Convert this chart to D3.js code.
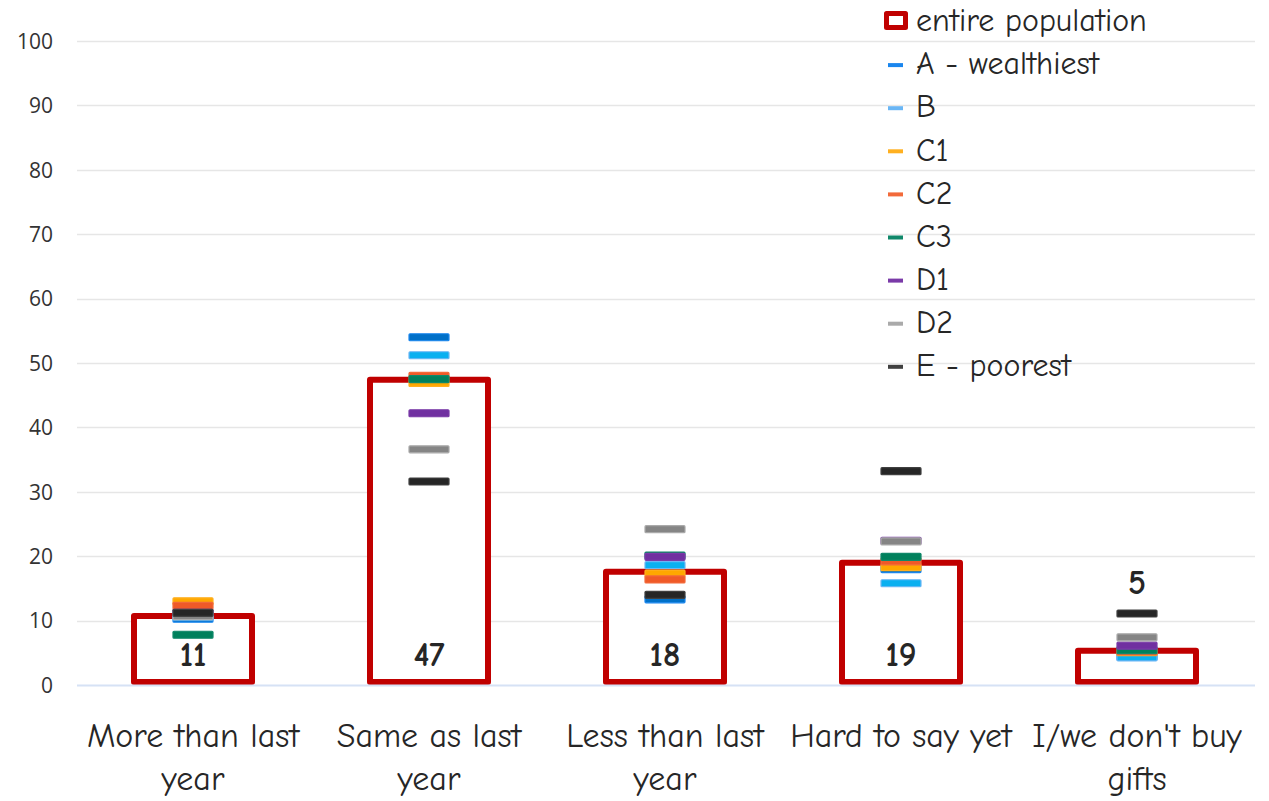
<!DOCTYPE html>
<html>
<head>
<meta charset="utf-8">
<script src="https://cdn.jsdelivr.net/npm/d3@7"></script>
<style>
  html, body { margin: 0; padding: 0; background: #fff; }
  svg { display: block; }
  .comic { font-family: "Comic Sans MS", "Comic Neue", "DejaVu Sans", sans-serif; fill: #262626; }
  .tick-y { font-family: "Open Sans", "Noto Sans", sans-serif; fill: #333; }
</style>
</head>
<body>
<svg id="chart" width="1269" height="801"></svg>
<script>
// категории (подписи в две строки)
const categories = [
  ["More than last", "year"],
  ["Same as last", "year"],
  ["Less than last", "year"],
  ["Hard to say yet"],
  ["I/we don't buy", "gifts"]
];

// все население (столбцы-рамки)
const entirePopulation = [10.7, 47.4, 17.6, 19.0, 5.3];

// группы по достатку (маркеры-черточки)
const groupA  = [10.3, 54.0, 13.3, 18.0, 4.4];
const groupB  = [10.6, 51.2, 18.6, 15.8, 4.3];
const groupC1 = [13.0, 46.9, 17.3, 18.3, 5.1];
const groupC2 = [12.3, 48.0, 16.4, 19.2, 5.2];
const groupC3 = [7.8, 47.5, 20.1, 19.9, 5.4];
const groupD1 = [11.2, 42.2, 19.9, 22.4, 6.1];
const groupD2 = [10.7, 36.6, 24.2, 22.3, 7.4];
const groupE  = [11.2, 31.6, 14.0, 33.2, 11.1];

const yTicks = [0, 10, 20, 30, 40, 50, 60, 70, 80, 90, 100];

// серии маркеров: имя, данные, заливка, обводка
const series = [
  {name: "A - wealthiest", values: groupA,  fill: "#0070c8", stroke: "#1a86ee"},
  {name: "B",              values: groupB,  fill: "#0ab0f0", stroke: "#6ab6f5"},
  {name: "C1",             values: groupC1, fill: "#ffa800", stroke: "#ffb020"},
  {name: "C2",             values: groupC2, fill: "#f05a28", stroke: "#f26a3a"},
  {name: "C3",             values: groupC3, fill: "#00805c", stroke: "#10886a"},
  {name: "D1",             values: groupD1, fill: "#7030a0", stroke: "#7a3aa8"},
  {name: "D2",             values: groupD2, fill: "#858585", stroke: "#aaaaaa"},
  {name: "E - poorest",    values: groupE,  fill: "#262626", stroke: "#404040"}
];

const svg = d3.select("#chart");

const plot = {left: 75, right: 1255, top: 41, bottom: 685};

const x = d3.scaleBand()
  .domain(d3.range(categories.length))
  .range([plot.left, plot.right])
  .padding(0);

const y = d3.scaleLinear()
  .domain([0, 100])
  .range([plot.bottom, plot.top]);

// сетка
svg.append("g")
  .selectAll("line")
  .data(yTicks.filter(t => t > 0))
  .join("line")
  .attr("x1", plot.left + 2)
  .attr("x2", plot.right)
  .attr("y1", d => Math.round(y(d)) + 0.5)
  .attr("y2", d => Math.round(y(d)) + 0.5)
  .attr("stroke", "#e6e6e6")
  .attr("stroke-width", 1.5);

// подписи оси Y
const axisY = svg.append("g")
  .attr("transform", "translate(53,0)")
  .call(d3.axisLeft(y).tickValues(yTicks).tickSize(0).tickPadding(0));
axisY.select(".domain").remove();
axisY.selectAll("text")
  .attr("class", "tick-y")
  .style("font-size", "21px")
  .attr("dy", "0.35em");

// столбцы "entire population"
const barW = x.bandwidth() * 0.5;
const sw = 6;
svg.append("g")
  .selectAll("rect")
  .data(entirePopulation)
  .join("rect")
  .attr("x", (d, i) => x(i) + x.bandwidth() / 2 - barW / 2)
  .attr("y", d => y(d))
  .attr("width", barW)
  .attr("height", d => y(0) - y(d) - sw / 2)
  .attr("fill", "#fff")
  .attr("stroke", "#c00000")
  .attr("stroke-width", sw)
  .attr("stroke-linejoin", "round");

// базовая линия
svg.append("line")
  .attr("x1", plot.left + 2)
  .attr("x2", plot.right)
  .attr("y1", y(0) + 0.5)
  .attr("y2", y(0) + 0.5)
  .attr("stroke", "#d6e2f5")
  .attr("stroke-width", 2);

// маркеры групп
const markW = 40, markH = 7;
series.forEach(s => {
  svg.append("g")
    .selectAll("rect")
    .data(s.values)
    .join("rect")
    .attr("x", (d, i) => x(i) + x.bandwidth() / 2 - markW / 2)
    .attr("y", d => y(d) - markH / 2)
    .attr("width", markW)
    .attr("height", markH)
    .attr("rx", 1)
    .attr("fill", s.fill)
    .attr("stroke", s.stroke)
    .attr("stroke-width", 1.2);
});

// подписи значений
svg.append("g")
  .selectAll("text")
  .data(entirePopulation)
  .join("text")
  .attr("class", "comic")
  .attr("x", (d, i) => x(i) + x.bandwidth() / 2)
  .attr("y", (d, i) => {
    if (d >= 8) return y(0) - 19;
    const top = d3.max(series, s => s.values[i]);
    return y(top) - 20;
  })
  .attr("text-anchor", "middle")
  .style("font-size", "34px")
  .style("font-weight", "bold")
  .text(d => d3.format(".0f")(d));

// подписи категорий
const catG = svg.append("g")
  .selectAll("text")
  .data(categories)
  .join("text")
  .attr("class", "comic")
  .attr("x", (d, i) => x(i) + x.bandwidth() / 2)
  .attr("y", 747)
  .attr("text-anchor", "middle")
  .style("font-size", "34px");
catG.selectAll("tspan")
  .data(d => d)
  .join("tspan")
  .attr("x", function() { return this.parentNode.getAttribute("x"); })
  .attr("dy", (d, i) => i === 0 ? 0 : 43)
  .text(d => d);

// легенда
const legend = svg.append("g").attr("transform", "translate(884,0)");
const rowH = 43.1, row0 = 20;

legend.append("rect")
  .attr("x", 2.5)
  .attr("y", row0 - 6.5)
  .attr("width", 19)
  .attr("height", 14)
  .attr("fill", "#fff")
  .attr("stroke", "#c00000")
  .attr("stroke-width", 5)
  .attr("stroke-linejoin", "round");
legend.append("text")
  .attr("class", "comic")
  .attr("x", 32)
  .attr("y", row0)
  .attr("dy", "0.35em")
  .style("font-size", "32px")
  .text("entire population");

const legendRows = legend.selectAll(".lg-row")
  .data(series)
  .join("g")
  .attr("class", "lg-row")
  .attr("transform", (d, i) => `translate(0,${row0 + (i + 1) * rowH})`);
legendRows.append("rect")
  .attr("x", 4)
  .attr("y", 0)
  .attr("width", 15)
  .attr("height", 4)
  .attr("fill", d => d.stroke);
legendRows.append("text")
  .attr("class", "comic")
  .attr("x", 32)
  .attr("y", 0)
  .attr("dy", "0.35em")
  .style("font-size", "32px")
  .text(d => d.name);
</script>
</body>
</html>
